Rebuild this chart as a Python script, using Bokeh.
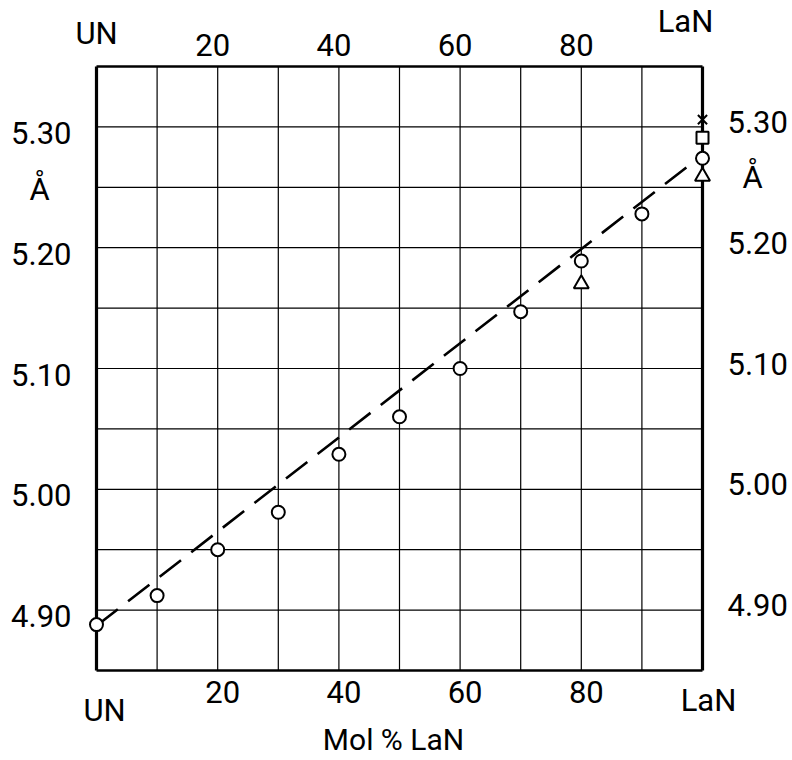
from bokeh.plotting import figure
from bokeh.models import Range1d
from bokeh.core.properties import value
from bokeh.embed import file_html
from bokeh.resources import INLINE

# ---- data ----
mol_circle = [0, 10, 20, 30, 40, 50, 60, 70, 80, 90, 100]
a_circle = [4.888, 4.912, 4.950, 4.981, 5.029, 5.060, 5.100, 5.147, 5.189, 5.228, 5.274]
mol_triangle = [80, 100]
a_triangle = [5.170, 5.259]
mol_square = [100]
a_square = [5.291]
mol_cross = [100]
a_cross = [5.306]
fit_x = [0, 98]
fit_y = [4.887, 5.269]

x_ticks = [20, 40, 60, 80]
x_tick_labels = ["20", "40", "60", "80"]
y_ticks = [4.90, 5.00, 5.10, 5.20, 5.30]
y_tick_labels = ["4.90", "5.00", "5.10", "5.20", "5.30"]
x_grid = [10, 20, 30, 40, 50, 60, 70, 80, 90]
y_grid = [4.90, 4.95, 5.00, 5.05, 5.10, 5.15, 5.20, 5.25, 5.30]
x_lo, x_hi = 0, 100
y_lo, y_hi = 4.85, 5.35

W, H = 792, 760
# pixel placement of the data box inside the canvas
PX_L, PX_R, PX_T, PX_B = 96, 702, 66, 670
sx = (PX_R - PX_L) / (x_hi - x_lo)
sy = (PX_B - PX_T) / (y_hi - y_lo)
xr = Range1d(x_lo - PX_L / sx, x_hi + (W - PX_R) / sx)
yr = Range1d(y_lo - (H - PX_B) / sy, y_hi + PX_T / sy)

FONT = value("Roboto")
FS = value("31px")

p = figure(width=W, height=H, x_range=xr, y_range=yr,
           min_border=0, output_backend="svg", toolbar_location=None)
p.axis.visible = False
p.grid.visible = False
p.outline_line_color = None
p.background_fill_color = "white"
p.border_fill_color = "white"

# grid lines
p.segment(x0=x_grid, y0=[y_lo] * len(x_grid), x1=x_grid, y1=[y_hi] * len(x_grid),
          line_color="black", line_width=1.2)
p.segment(x0=[x_lo] * len(y_grid), y0=y_grid, x1=[x_hi] * len(y_grid), y1=y_grid,
          line_color="black", line_width=1.2)
# border
p.segment(x0=[x_lo, x_hi], y0=[y_lo, y_lo], x1=[x_lo, x_hi], y1=[y_hi, y_hi],
          line_color="black", line_width=3.2)
p.segment(x0=[x_lo, x_lo], y0=[y_lo, y_hi], x1=[x_hi, x_hi], y1=[y_lo, y_hi],
          line_color="black", line_width=2.4)

# fit line
p.line(fit_x, fit_y, line_color="black", line_width=2.6, line_dash="27 13")

# markers
p.scatter(mol_circle, a_circle, marker="circle", size=13, fill_color="white",
          line_color="black", line_width=2)
p.scatter(mol_triangle, a_triangle, marker="triangle", size=15, fill_color="white",
          line_color="black", line_width=2)
p.scatter(mol_square, a_square, marker="square", size=12, fill_color="white",
          line_color="black", line_width=2)
p.scatter(mol_cross, a_cross, marker="x", size=13, line_color="black", line_width=2)

def txt(xs, ys, texts, align="center", size=FS):
    p.text(x=xs, y=ys, text=texts, text_font=FONT, text_font_size=size,
           text_color="black", text_align=align, text_baseline="middle")

# tick labels (offset from the box edges in pixel terms)
txt([x_lo - 25 / sx] * len(y_ticks), [t - 6 / sy for t in y_ticks], y_tick_labels, align="right")
txt([x_hi + 25 / sx] * len(y_ticks), [t + 5 / sy for t in y_ticks], y_tick_labels, align="left")
txt([t - 5 / sx for t in x_ticks], [y_hi + 22 / sy] * len(x_ticks), x_tick_labels)
txt([t + 5 / sx for t in x_ticks], [y_lo - 21 / sy] * len(x_ticks), x_tick_labels)

# end labels and units
txt([x_lo, x_hi - 17 / sx], [y_hi + 33 / sy, y_hi + 45 / sy], ["UN", "LaN"])
txt([x_lo + 8 / sx, x_hi + 6 / sx], [y_lo - 40 / sy, y_lo - 30 / sy], ["UN", "LaN"])
txt([x_lo - 57 / sx], [5.25 - 2 / sy], ["Å"])
txt([x_hi + 50 / sx], [5.25 + 10 / sy], ["Å"])
txt([(x_lo + x_hi) / 2 - 6 / sx], [y_lo - 69 / sy], ["Mol % LaN"], size=value("30px"))

open("out.html", "w").write(file_html(p, INLINE))
